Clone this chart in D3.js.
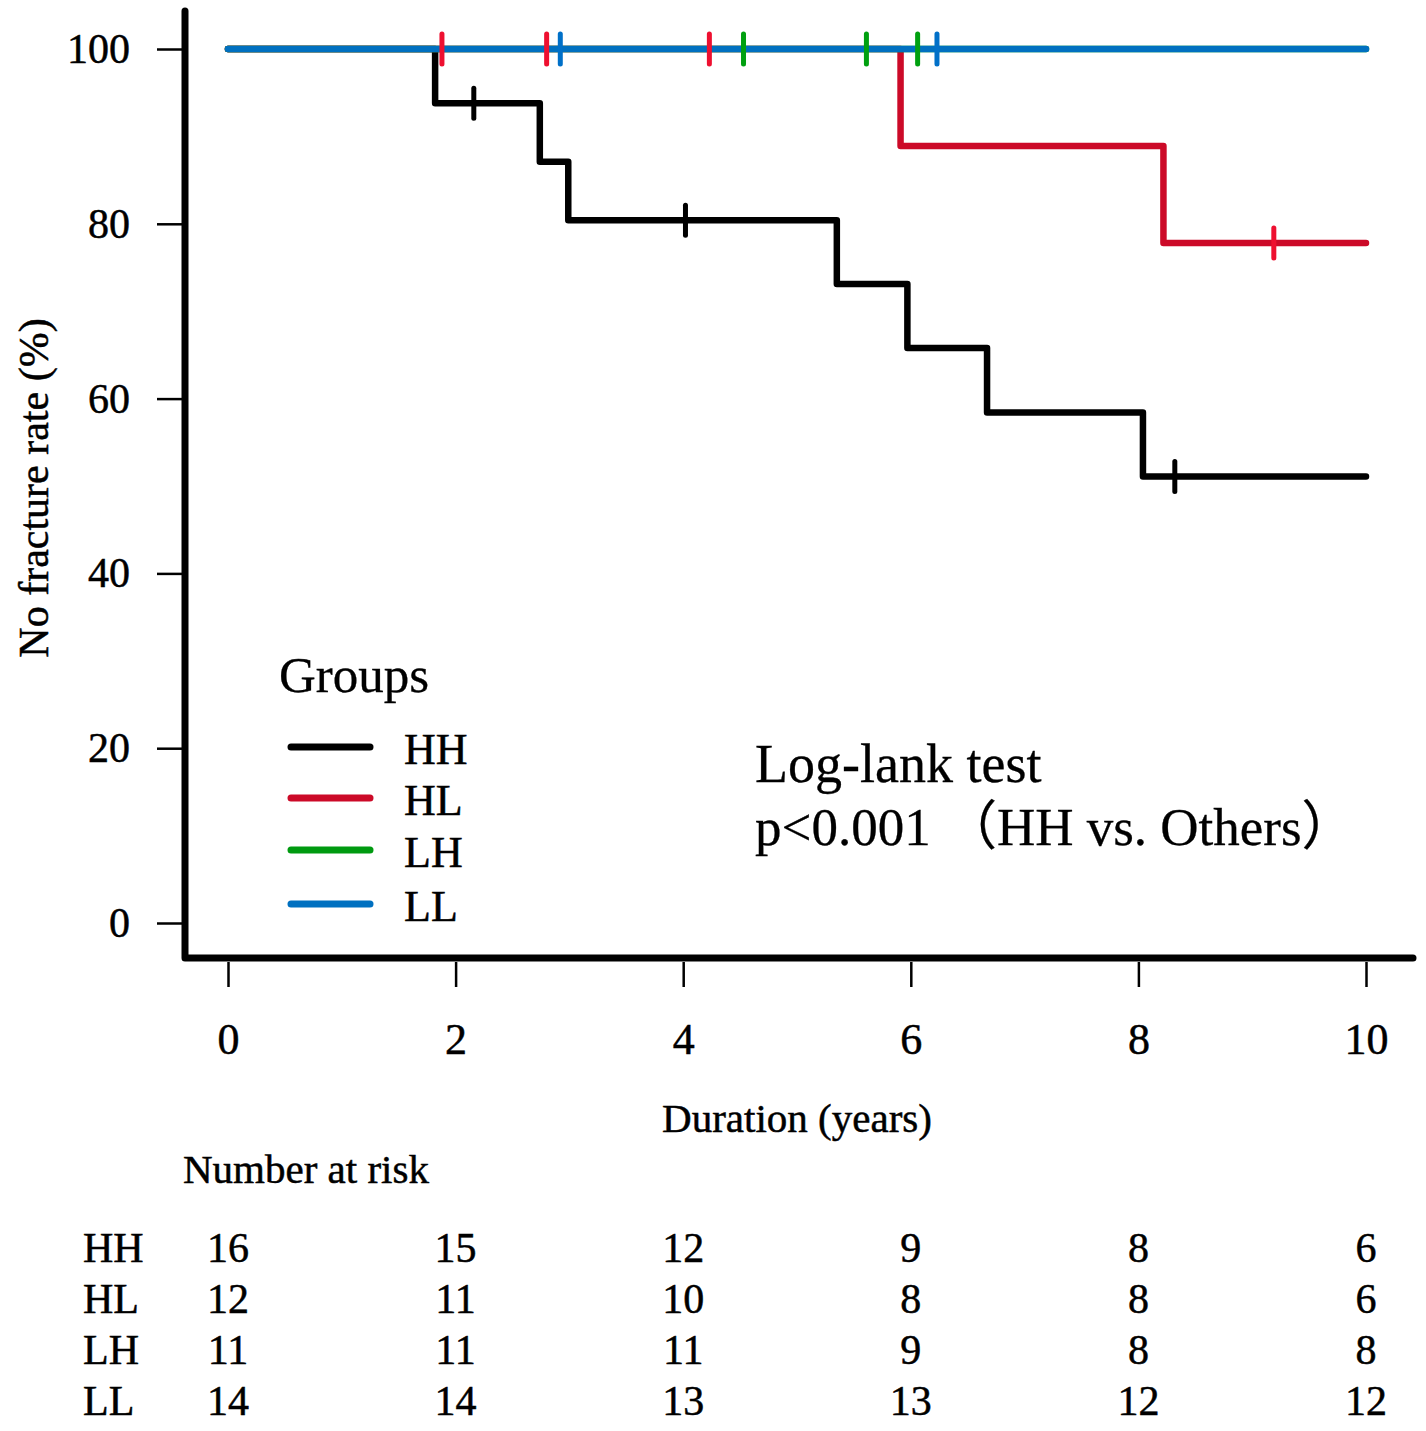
<!DOCTYPE html>
<html>
<head>
<meta charset="utf-8">
<script src="https://cdn.jsdelivr.net/npm/d3@7"></script>
<style>
  body { margin: 0; background: #fff; }
  svg text { font-family: "Liberation Serif", "Times New Roman", "Noto Sans CJK JP", serif; fill: #000; stroke: #000; stroke-width: 0.5px; }
</style>
</head>
<body>
<svg></svg>
<script>
// survival steps (time in years, % without fracture)
var groups = ["HH", "HL", "LH", "LL"];
var colors = ["#000000", "#cc0a28", "#009a10", "#0070c0"];
var censorColors = ["#000000", "#ee1030", "#00a010", "#0070c8"];

var hhTimes = [0, 1.82, 2.74, 2.99, 5.35, 5.97, 6.67, 8.04, 10];
var hhSurv  = [100, 93.8, 87.1, 80.4, 73.1, 65.8, 58.4, 51.1, 51.1];
var hhCensor = [2.16, 4.02, 8.32];

var hlTimes = [0, 5.91, 8.22, 10];
var hlSurv  = [100, 88.9, 77.8, 77.8];
var hlCensor = [1.88, 2.80, 4.23, 9.19];

var lhTimes = [0, 10];
var lhSurv  = [100, 100];
var lhCensor = [4.53, 5.61, 6.06];

var llTimes = [0, 10];
var llSurv  = [100, 100];
var llCensor = [2.92, 6.23];

var xTicks = [0, 2, 4, 6, 8, 10];
var yTicks = [0, 20, 40, 60, 80, 100];

// number at risk at each x tick
var riskHH = [16, 15, 12, 9, 8, 6];
var riskHL = [12, 11, 10, 8, 8, 6];
var riskLH = [11, 11, 11, 9, 8, 8];
var riskLL = [14, 14, 13, 13, 12, 12];

var width = 1426;
var height = 1431;

var curves = [
  {times: hhTimes, surv: hhSurv, censor: hhCensor},
  {times: hlTimes, surv: hlSurv, censor: hlCensor},
  {times: lhTimes, surv: lhSurv, censor: lhCensor},
  {times: llTimes, surv: llSurv, censor: llCensor}
];
var risk = [riskHH, riskHL, riskLH, riskLL];

var x = d3.scaleLinear().domain([0, 10]).range([228, 1366]);
var y = d3.scaleLinear().domain([0, 100]).range([923, 49]);

var svg = d3.select("svg")
    .attr("width", width)
    .attr("height", height)
    .attr("viewBox", [0, 0, width, height]);

// y axis ticks
var yAxis = svg.append("g")
    .attr("transform", "translate(185,0)")
    .call(d3.axisLeft(y).tickValues(yTicks).tickSize(28).tickPadding(27));
yAxis.select(".domain").remove();
yAxis.selectAll("line").attr("stroke", "#000").attr("stroke-width", 2.5);
yAxis.selectAll("text").attr("font-size", 42).attr("fill", "#000")
    .style("font-family", "'Liberation Serif', serif");

// x axis ticks
var xAxis = svg.append("g")
    .attr("transform", "translate(0,962)")
    .call(d3.axisBottom(x).tickValues(xTicks).tickSize(25).tickPadding(36));
xAxis.select(".domain").remove();
xAxis.selectAll("line").attr("stroke", "#000").attr("stroke-width", 2.5);
xAxis.selectAll("text").attr("font-size", 44).attr("fill", "#000")
    .style("font-family", "'Liberation Serif', serif");

// thick L-shaped frame
svg.append("path")
    .attr("d", "M185,11V958H1413")
    .attr("fill", "none")
    .attr("stroke", "#000")
    .attr("stroke-width", 7)
    .attr("stroke-linecap", "round")
    .attr("stroke-linejoin", "round");

var line = d3.line()
    .x(d => x(d[0]))
    .y(d => y(d[1]))
    .curve(d3.curveStepAfter);

curves.forEach(function(c, i) {
  var pts = c.times.map((t, j) => [t, c.surv[j]]);
  svg.append("path")
      .datum(pts)
      .attr("d", line)
      .attr("fill", "none")
      .attr("stroke", colors[i])
      .attr("stroke-width", 6.5)
      .attr("stroke-linejoin", "round")
      .attr("stroke-linecap", "round");
});

// censor ticks drawn on top
function survAt(c, t) {
  var s = c.surv[0];
  c.times.forEach((tt, j) => { if (tt <= t) s = c.surv[j]; });
  return s;
}
curves.forEach(function(c, i) {
  svg.append("g").selectAll("line")
    .data(c.censor)
    .join("line")
      .attr("x1", d => x(d))
      .attr("x2", d => x(d))
      .attr("y1", d => y(survAt(c, d)) - 15)
      .attr("y2", d => y(survAt(c, d)) + 15)
      .attr("stroke", censorColors[i])
      .attr("stroke-width", 5)
      .attr("stroke-linecap", "round");
});

// y label
svg.append("text")
    .attr("transform", "translate(48,488) rotate(-90)")
    .attr("text-anchor", "middle")
    .attr("font-size", 42)
    .text("No fracture rate (%)");

// legend
svg.append("text")
    .attr("x", 279).attr("y", 692)
    .attr("font-size", 51)
    .style("stroke-width", "0.3px")
    .text("Groups");
var legendY = [747, 798, 850, 904];
var leg = svg.append("g").selectAll("g")
    .data(groups)
    .join("g");
leg.append("line")
    .attr("x1", 291).attr("x2", 370)
    .attr("y1", (d, i) => legendY[i]).attr("y2", (d, i) => legendY[i])
    .attr("stroke", (d, i) => colors[i])
    .attr("stroke-width", 7)
    .attr("stroke-linecap", "round");
leg.append("text")
    .attr("x", 404)
    .attr("y", (d, i) => legendY[i] + 17)
    .attr("font-size", 44)
    .text(d => d);

// log-rank note
svg.append("text")
    .attr("x", 755).attr("y", 782)
    .attr("font-size", 54)
    .style("stroke-width", "0.3px")
    .text("Log-lank test");
svg.append("text")
    .attr("x", 755).attr("y", 845)
    .attr("font-size", 53)
    .style("stroke-width", "0.3px")
    .text("p<0.001 （HH vs. Others）");

// x title
svg.append("text")
    .attr("x", 797).attr("y", 1132)
    .attr("text-anchor", "middle")
    .attr("font-size", 41)
    .text("Duration (years)");

// risk table
svg.append("text")
    .attr("x", 183).attr("y", 1183)
    .attr("font-size", 41)
    .text("Number at risk");
var rowY = [1262, 1313, 1364, 1415];
var rows = svg.append("g").selectAll("g")
    .data(groups)
    .join("g");
rows.append("text")
    .attr("x", 83)
    .attr("y", (d, i) => rowY[i])
    .attr("font-size", 42)
    .text(d => d);
rows.each(function(g, i) {
  d3.select(this).selectAll(".n")
    .data(risk[i])
    .join("text")
      .attr("class", "n")
      .attr("x", (d, j) => x(xTicks[j]))
      .attr("y", rowY[i])
      .attr("text-anchor", "middle")
      .attr("font-size", 42)
      .text(d => d);
});
</script>
</body>
</html>
